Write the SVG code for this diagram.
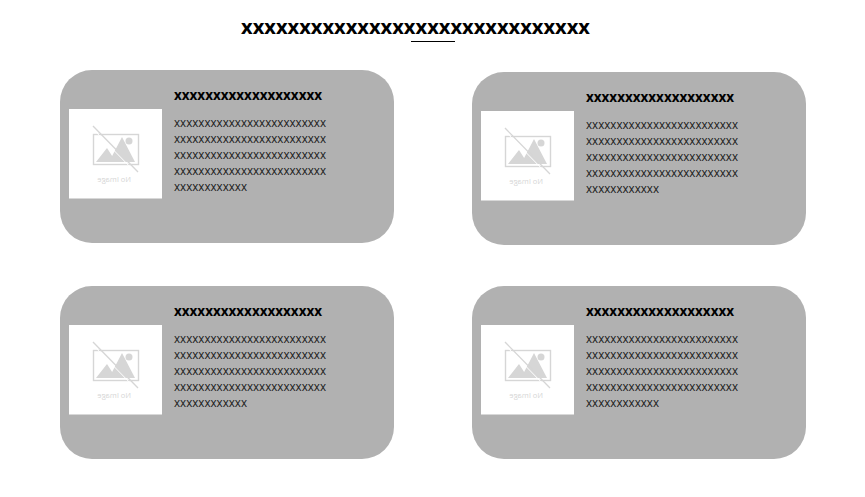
<svg xmlns="http://www.w3.org/2000/svg" width="865" height="497" viewBox="0 0 865 497">
<style>
text{font-family:"Open Sans","Liberation Sans",sans-serif;fill:#000}
.card{fill:#b1b1b1}
.ph{fill:#fff}
.t{font-size:20px;font-weight:700}
.h{font-size:13.300px;font-weight:700}
.b{font-size:11.700px;fill:#1a1a1a}
.ic{fill:none;stroke:#d6d6d6;stroke-width:1.400}
.m{fill:#d6d6d6}
.n{font-size:7.500px;fill:#d6d6d6}
</style>
<defs>
<g id="noimg">
<rect class="ph" x="0" y="0" width="93" height="89.500"/>
<rect class="ic" x="24.500" y="25.500" width="45" height="30"/>
<path class="m" d="M27 53 L38 39 L47 53 Z M40 53 L53 28 L66 53 Z"/>
<circle class="m" cx="60" cy="32" r="3.500"/>
<path d="M24 17 L69 63" stroke="#d6d6d6" stroke-width="1.300" fill="none"/>
<path d="M23 19 L67 64" stroke="#fff" stroke-width="1" fill="none"/>
<text class="n" transform="translate(62 73) scale(-1 1)">No Image</text>
</g>
</defs>
<g id="title">
<text class="t" x="241" y="34" textLength="349" lengthAdjust="spacingAndGlyphs">xxxxxxxxxxxxxxxxxxxxxxxxxxxxxx</text>
<path d="M411 41.500H455" stroke="#000" stroke-width="1"/>
</g>
<g id="connectors"/>
<g id="card1">
<rect class="card" x="60" y="70" width="334" height="173" rx="32"/>
<use href="#noimg" x="69" y="109"/>
<text class="h" x="174" y="100" textLength="148" lengthAdjust="spacingAndGlyphs">xxxxxxxxxxxxxxxxxxx</text>
<text class="b" x="174" y="127" textLength="152" lengthAdjust="spacingAndGlyphs">xxxxxxxxxxxxxxxxxxxxxxxxx</text>
<text class="b" x="174" y="143" textLength="152" lengthAdjust="spacingAndGlyphs">xxxxxxxxxxxxxxxxxxxxxxxxx</text>
<text class="b" x="174" y="159" textLength="152" lengthAdjust="spacingAndGlyphs">xxxxxxxxxxxxxxxxxxxxxxxxx</text>
<text class="b" x="174" y="175" textLength="152" lengthAdjust="spacingAndGlyphs">xxxxxxxxxxxxxxxxxxxxxxxxx</text>
<text class="b" x="174" y="191" textLength="73" lengthAdjust="spacingAndGlyphs">xxxxxxxxxxxx</text>
</g>
<g id="card2">
<rect class="card" x="472" y="72" width="334" height="173" rx="32"/>
<use href="#noimg" x="481" y="111"/>
<text class="h" x="586" y="102" textLength="148" lengthAdjust="spacingAndGlyphs">xxxxxxxxxxxxxxxxxxx</text>
<text class="b" x="586" y="129" textLength="152" lengthAdjust="spacingAndGlyphs">xxxxxxxxxxxxxxxxxxxxxxxxx</text>
<text class="b" x="586" y="145" textLength="152" lengthAdjust="spacingAndGlyphs">xxxxxxxxxxxxxxxxxxxxxxxxx</text>
<text class="b" x="586" y="161" textLength="152" lengthAdjust="spacingAndGlyphs">xxxxxxxxxxxxxxxxxxxxxxxxx</text>
<text class="b" x="586" y="177" textLength="152" lengthAdjust="spacingAndGlyphs">xxxxxxxxxxxxxxxxxxxxxxxxx</text>
<text class="b" x="586" y="193" textLength="73" lengthAdjust="spacingAndGlyphs">xxxxxxxxxxxx</text>
</g>
<g id="card3">
<rect class="card" x="60" y="286" width="334" height="173" rx="32"/>
<use href="#noimg" x="69" y="325"/>
<text class="h" x="174" y="316" textLength="148" lengthAdjust="spacingAndGlyphs">xxxxxxxxxxxxxxxxxxx</text>
<text class="b" x="174" y="343" textLength="152" lengthAdjust="spacingAndGlyphs">xxxxxxxxxxxxxxxxxxxxxxxxx</text>
<text class="b" x="174" y="359" textLength="152" lengthAdjust="spacingAndGlyphs">xxxxxxxxxxxxxxxxxxxxxxxxx</text>
<text class="b" x="174" y="375" textLength="152" lengthAdjust="spacingAndGlyphs">xxxxxxxxxxxxxxxxxxxxxxxxx</text>
<text class="b" x="174" y="391" textLength="152" lengthAdjust="spacingAndGlyphs">xxxxxxxxxxxxxxxxxxxxxxxxx</text>
<text class="b" x="174" y="407" textLength="73" lengthAdjust="spacingAndGlyphs">xxxxxxxxxxxx</text>
</g>
<g id="card4">
<rect class="card" x="472" y="286" width="334" height="173" rx="32"/>
<use href="#noimg" x="481" y="325"/>
<text class="h" x="586" y="316" textLength="148" lengthAdjust="spacingAndGlyphs">xxxxxxxxxxxxxxxxxxx</text>
<text class="b" x="586" y="343" textLength="152" lengthAdjust="spacingAndGlyphs">xxxxxxxxxxxxxxxxxxxxxxxxx</text>
<text class="b" x="586" y="359" textLength="152" lengthAdjust="spacingAndGlyphs">xxxxxxxxxxxxxxxxxxxxxxxxx</text>
<text class="b" x="586" y="375" textLength="152" lengthAdjust="spacingAndGlyphs">xxxxxxxxxxxxxxxxxxxxxxxxx</text>
<text class="b" x="586" y="391" textLength="152" lengthAdjust="spacingAndGlyphs">xxxxxxxxxxxxxxxxxxxxxxxxx</text>
<text class="b" x="586" y="407" textLength="73" lengthAdjust="spacingAndGlyphs">xxxxxxxxxxxx</text>
</g>
</svg>
